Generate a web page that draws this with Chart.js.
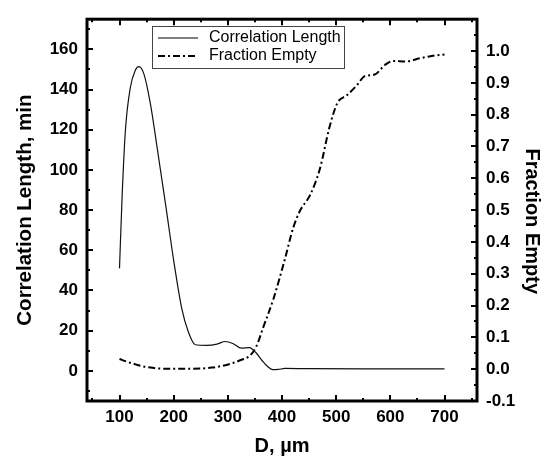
<!DOCTYPE html>
<html>
<head>
    <title>Correlation Length vs D</title>
    <script src="https://cdn.jsdelivr.net/npm/chart.js@4.4.1/dist/chart.umd.min.js"></script>
    <style>
        body { margin: 0; background: #fff; }
        canvas { display: block; }
    </style>
</head>
<body>
    <canvas id="myChart" width="547" height="458"></canvas>

    <script>
        // data
        const corrD = [100, 105, 111, 120, 129, 136, 145, 157, 169, 185, 200, 215, 227, 240, 261, 280, 295, 310, 325, 340, 352, 364, 375, 383, 393, 405, 450, 550, 700];
        const corrLength = [51, 88, 120, 141, 149.5, 151.4, 147.8, 133, 112, 83, 55, 31, 19.5, 13, 12.7, 13.3, 14.6, 13.5, 11.3, 11.6, 9, 4.9, 1.8, 0.6, 0.7, 1.2, 1.1, 1.0, 1.0];

        const fracD = [100, 113, 126, 140, 157, 175, 200, 250, 270, 286, 305, 323, 341, 353, 365, 384, 405, 421, 433, 452, 470, 488, 503, 519, 537, 553, 571, 590, 605, 629, 654, 679, 700];
        const fracEmpty = [0.032, 0.024, 0.017, 0.010, 0.005, 0.002, 0.001, 0.002, 0.005, 0.009, 0.017, 0.028, 0.043, 0.073, 0.13, 0.22, 0.344, 0.446, 0.497, 0.548, 0.63, 0.763, 0.839, 0.86, 0.89, 0.921, 0.926, 0.956, 0.969, 0.967, 0.977, 0.985, 0.989];

        const xTicks = [100, 200, 300, 400, 500, 600, 700];
        const leftTicks = [0, 20, 40, 60, 80, 100, 120, 140, 160];
        const rightTicks = [-0.1, 0.0, 0.1, 0.2, 0.3, 0.4, 0.5, 0.6, 0.7, 0.8, 0.9, 1.0];

        Chart.defaults.font.family = '"Liberation Sans", Arial, Helvetica, sans-serif';
        Chart.defaults.color = '#000';

        const tickFont = { size: 17, weight: 'bold' };
        const titleFont = { size: 20, weight: 'bold' };

        // frame, inward ticks and the boxed legend
        const framePlugin = {
            id: 'frame',
            afterDraw(chart) {
                const ctx = chart.ctx;
                const a = chart.chartArea;
                const sx = chart.scales.x, sy = chart.scales.y, sy2 = chart.scales.y2;
                ctx.save();
                ctx.strokeStyle = '#000';
                ctx.lineWidth = 2;
                ctx.beginPath();
                for (let v = 50; v <= 750; v += 50) {
                    const px = Math.round(sx.getPixelForValue(v));
                    const len = v % 100 === 0 ? 6 : 3;
                    ctx.moveTo(px, a.bottom); ctx.lineTo(px, a.bottom - len);
                    ctx.moveTo(px, a.top); ctx.lineTo(px, a.top + len);
                }
                for (let v = -10; v <= 170; v += 10) {
                    const py = Math.round(sy.getPixelForValue(v));
                    const len = v % 20 === 0 ? 6 : 3;
                    ctx.moveTo(a.left, py); ctx.lineTo(a.left + len, py);
                }
                for (let i = -2; i <= 21; i++) {
                    const py = Math.round(sy2.getPixelForValue(i * 0.05));
                    const len = i % 2 === 0 ? 6 : 3;
                    ctx.moveTo(a.right, py); ctx.lineTo(a.right - len, py);
                }
                ctx.stroke();

                ctx.lineWidth = 3;
                ctx.strokeRect(a.left, a.top, a.right - a.left, a.bottom - a.top);

                // legend
                ctx.lineWidth = 1;
                ctx.strokeStyle = '#444';
                ctx.strokeRect(152.5, 26.5, 192, 42);
                const items = chart.data.datasets;
                ctx.font = '16px "Liberation Sans", Arial, sans-serif';
                ctx.fillStyle = '#000';
                ctx.textBaseline = 'middle';
                items.forEach((ds, i) => {
                    const y = 38 + i * 18;
                    ctx.strokeStyle = '#000';
                    ctx.lineWidth = ds.borderWidth;
                    ctx.setLineDash(ds.borderDash || []);
                    ctx.beginPath();
                    ctx.moveTo(158, y); ctx.lineTo(198, y);
                    ctx.stroke();
                    ctx.setLineDash([]);
                    ctx.fillText(ds.label, 209, y);
                });
                ctx.restore();
            }
        };

        const ctx = document.getElementById('myChart').getContext('2d');
        new Chart(ctx, {
            type: 'line',
            data: {
                datasets: [
                    {
                        label: 'Correlation Length',
                        data: corrD.map((d, i) => ({ x: d, y: corrLength[i] })),
                        yAxisID: 'y',
                        borderColor: '#111',
                        borderWidth: 1.2,
                        pointRadius: 0,
                        fill: false,
                        cubicInterpolationMode: 'monotone'
                    },
                    {
                        label: 'Fraction Empty',
                        data: fracD.map((d, i) => ({ x: d, y: fracEmpty[i] })),
                        yAxisID: 'y2',
                        borderColor: '#000',
                        borderWidth: 2,
                        borderDash: [7, 3, 2, 3],
                        pointRadius: 0,
                        fill: false,
                        cubicInterpolationMode: 'monotone'
                    }
                ]
            },
            options: {
                responsive: false,
                animation: false,
                devicePixelRatio: 1,
                layout: { padding: { top: 10, left: 0, right: 0, bottom: 0 } },
                plugins: {
                    legend: { display: false },
                    tooltip: { enabled: false }
                },
                scales: {
                    x: {
                        type: 'linear',
                        position: 'bottom',
                        min: 40,
                        max: 760,
                        grid: { display: false, drawTicks: false },
                        border: { display: false },
                        afterBuildTicks: (scale) => { scale.ticks = xTicks.map(v => ({ value: v })); },
                        afterFit: (scale) => { scale.height = 57; },
                        ticks: { font: tickFont, padding: 6, maxRotation: 0 },
                        title: { display: true, text: 'D, µm', font: titleFont, padding: { top: 0, bottom: 0 } }
                    },
                    y: {
                        type: 'linear',
                        position: 'left',
                        min: -15,
                        max: 175,
                        grid: { display: false, drawTicks: false },
                        border: { display: false },
                        afterBuildTicks: (scale) => { scale.ticks = leftTicks.map(v => ({ value: v })); },
                        afterFit: (scale) => { scale.width = 87; },
                        ticks: { font: tickFont, padding: 9 },
                        title: { display: true, text: 'Correlation Length, min', font: { size: 20.5, weight: 'bold' }, padding: { top: 13, bottom: 0 } }
                    },
                    y2: {
                        type: 'linear',
                        position: 'right',
                        min: -0.1,
                        max: 1.1,
                        grid: { display: false, drawTicks: false },
                        border: { display: false },
                        afterBuildTicks: (scale) => { scale.ticks = rightTicks.map(v => ({ value: v })); },
                        afterFit: (scale) => { scale.width = 70; },
                        ticks: { font: tickFont, padding: 9, callback: (v) => v.toFixed(1) },
                        // leading spaces nudge the title down a little, as in the original
                        title: { display: true, text: '    Fraction Empty', font: titleFont, padding: { top: 3, bottom: 0 } }
                    }
                }
            },
            plugins: [framePlugin]
        });
    </script>
</body>
</html>
